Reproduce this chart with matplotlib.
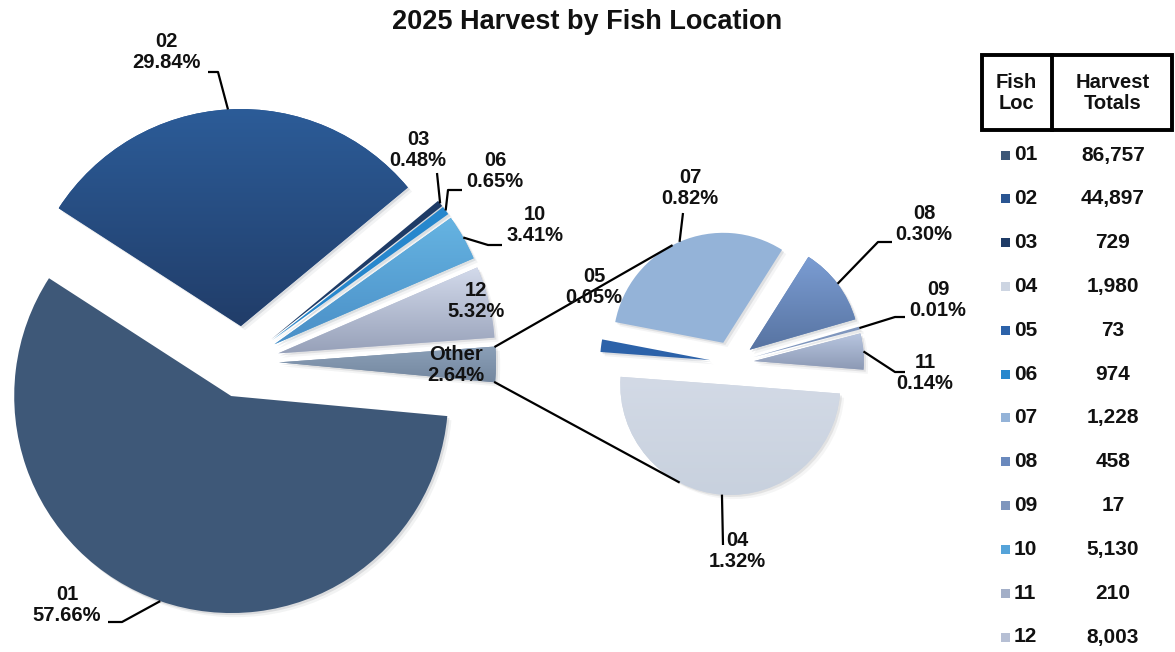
import numpy as np
import matplotlib
matplotlib.use('Agg')
import matplotlib.pyplot as plt
from matplotlib.colors import LinearSegmentedColormap
from matplotlib.patches import Rectangle
import matplotlib.patheffects as pe

plt.rcParams['font.family'] = ['Liberation Sans', 'DejaVu Sans']

# harvest totals per fish location
locs = ['01', '02', '03', '04', '05', '06', '07', '08', '09', '10', '11', '12']
totals = [86757, 44897, 729, 1980, 73, 974, 1228, 458, 17, 5130, 210, 8003]

# locations shown in the main pie, the rest go into "Other" and the side pie
main_locs = ['01', '02', '03', '06', '10', '12']
sub_locs = ['04', '05', '07', '08', '09', '11']

colors = {
    '01': '#3e5878', '02': '#2a5592', '03': '#1e3b66', '04': '#cdd5e2',
    '05': '#2c62a9', '06': '#2687cd', '07': '#94b3d8', '08': '#6a89bd',
    '09': '#7f96bd', '10': '#55a3d9', '11': '#a3afc8', '12': '#b6bfd4',
    'Other': '#8194ad',
}
# top / bottom shades for the wedges with a gradient fill
gradients = {
    '02': ('#2c5c98', '#213d69'),
    '08': ('#7b9dd3', '#5773a1'),
    '10': ('#66b4e2', '#4a8fc7'),
    '11': ('#b8c6e0', '#8c99b4'),
    '12': ('#d3daeb', '#97a1b9'),
    'Other': ('#8ba0b8', '#74879f'),
    '04': ('#d3dae6', '#c8d1de'),
}

tot = dict(zip(locs, totals))
grand = sum(totals)
main_names = main_locs + ['Other']
main_vals = [tot[k] for k in main_locs] + [sum(tot[k] for k in sub_locs)]
sub_vals = [tot[k] for k in sub_locs]

W, H = 1175, 652
fig = plt.figure(figsize=(W / 100, H / 100), dpi=100)
ax = fig.add_axes([0, 0, 1, 1])


def Y(y):
    # layout positions are measured from the top edge
    return H - y


shadow = [pe.SimplePatchShadow(offset=(1.5, -1.5), alpha=0.10),
          pe.SimplePatchShadow(offset=(3, -3), alpha=0.05), pe.Normal()]

R1, R2 = 217, 110
w_main, _ = ax.pie(main_vals, colors=[colors[k] for k in main_names],
                   center=(243, Y(362)), radius=R1, startangle=-5.3,
                   counterclock=False, explode=[0.166 * R1] * len(main_vals),
                   wedgeprops=dict(linewidth=0))
w_sub, _ = ax.pie(sub_vals, colors=[colors[k] for k in sub_locs],
                  center=(732, Y(363)), radius=R2, startangle=-4.5,
                  counterclock=False, explode=[0.2 * R2] * len(sub_vals),
                  wedgeprops=dict(linewidth=0))

wedges = dict(zip(main_names, w_main))
wedges.update(zip(sub_locs, w_sub))

for name, w in wedges.items():
    w.set_path_effects(shadow)
    if name in gradients:
        top, bot = gradients[name]
        ext = w.get_path().get_extents()
        cmap = LinearSegmentedColormap.from_list('g' + name, [bot, top])
        im = ax.imshow(np.linspace(0, 1, 256).reshape(-1, 1), cmap=cmap,
                       extent=(ext.x0, ext.x1, ext.y0, ext.y1),
                       origin='lower', aspect='auto', zorder=w.get_zorder() + 0.1)
        im.set_clip_path(w)


def arc_point(w, ang):
    cx, cy = w.center
    a = np.deg2rad(ang)
    return cx + w.r * np.cos(a), cy + w.r * np.sin(a)


def mid_point(w):
    return arc_point(w, (w.theta1 + w.theta2) / 2)


def point_at(ws, ang):
    for w in ws:
        if (ang - w.theta1) % 360 <= (w.theta2 - w.theta1):
            return arc_point(w, ang)


def pct(k):
    v = tot[k] if k in tot else main_vals[-1]
    return f'{k}\n{100 * v / grand:.2f}%'


# label text centres and leader elbows
label_pos = {
    '01': ((67, 605), [(122, 622), (108, 622)]),
    '02': ((166, 52), [(218, 72), (208, 72)]),
    '03': ((418, 150), [(437, 173)]),
    '06': ((495, 171), [(448, 190), (462, 190)]),
    '10': ((535, 225), [(488, 245), (502, 245)]),
    '12': ((476, 301), None),
    'Other': ((456, 365), None),
    '04': ((737, 551), [(723, 545)]),
    '05': ((594, 287), None),
    '07': ((690, 188), [(683, 213)]),
    '08': ((924, 224), [(878, 242), (892, 242)]),
    '09': ((938, 300), [(895, 317), (905, 317)]),
    '11': ((925, 373), [(895, 372), (905, 372)]),
}

txt = dict(fontsize=14.5, fontweight='bold', ha='center', va='center',
           linespacing=1.15, color='#111111', zorder=6)
for name, (pos, elbow) in label_pos.items():
    ax.text(pos[0], Y(pos[1]), pct(name), **txt)
    if elbow:
        ax0, ay0 = mid_point(wedges[name])
        xs = [ax0] + [p[0] for p in elbow]
        ys = [ay0] + [Y(p[1]) for p in elbow]
        ax.plot(xs, ys, color='black', lw=1.6, zorder=5, solid_capstyle='butt')

# lines joining the "Other" wedge to the side pie
wo = wedges['Other']
hi_a, lo_a = max(wo.theta1, wo.theta2), min(wo.theta1, wo.theta2)
for a_main, a_sub in [(hi_a, 118), (lo_a, -118)]:
    p0 = arc_point(wo, a_main)
    p1 = point_at(w_sub, a_sub)
    ax.plot([p0[0], p1[0]], [p0[1], p1[1]], color='black', lw=1.6, zorder=5)

ax.text(587, Y(22), '2025 Harvest by Fish Location', fontsize=19.5,
        fontweight='bold', ha='center', va='center', color='#111111')

# totals table on the right
ax.add_patch(Rectangle((982, Y(130)), 190, 75, fill=False, lw=2.8,
                       edgecolor='black', zorder=6))
ax.plot([1052, 1052], [Y(130), Y(55)], color='black', lw=2.8, zorder=6)
hdr = dict(fontsize=14.5, fontweight='bold', ha='center', va='center',
           linespacing=1.1, color='#111111')
ax.text(1016, Y(93), 'Fish\nLoc', **hdr)
ax.text(1113, Y(93), 'Harvest\nTotals', **hdr)
row_y = np.linspace(155, 637, len(locs))
for yy, k in zip(row_y, locs):
    ax.add_patch(Rectangle((1001, Y(yy) - 4.5), 9, 9, color=colors[k], lw=0))
    ax.text(1014, Y(yy), k, fontsize=15, fontweight='bold', ha='left',
            va='center', color='#111111')
    ax.text(1113, Y(yy), f'{tot[k]:,}', fontsize=15, fontweight='bold',
            ha='center', va='center', color='#111111')

ax.set_xlim(0, W)
ax.set_ylim(0, H)
ax.set_aspect('equal')
ax.axis('off')
fig.savefig('out.png', dpi=100, facecolor='white')
